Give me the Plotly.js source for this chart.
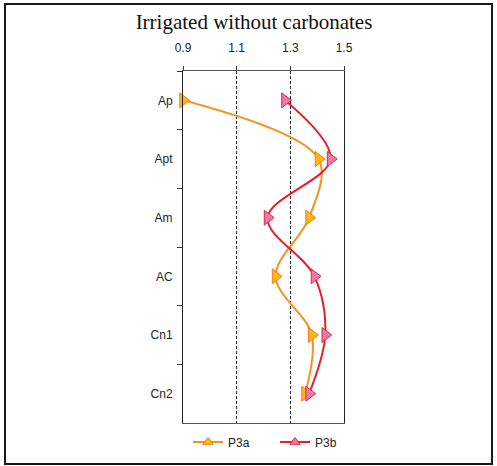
<!DOCTYPE html>
<html>
<head>
<meta charset="utf-8">
<script src="https://cdn.plot.ly/plotly-3.0.1.min.js"></script>
<style>
  html, body { margin: 0; padding: 0; background: #fff; }
  #wrap { position: relative; width: 497px; height: 466px; }
  #chart { position: absolute; left: 0; top: 0; width: 497px; height: 466px; }
  #frame { position: absolute; left: 4px; top: 3px; width: 489px; height: 462px;
           box-sizing: border-box; border: 2px solid #1a1a1a; pointer-events: none; }
</style>
</head>
<body>
<div id="wrap">
  <div id="chart"></div>
  <div id="frame"></div>
</div>
<script>
// Data
const horizons = ["Ap", "Apt", "Am", "AC", "Cn1", "Cn2"];
const p3a = [0.90, 1.405, 1.37, 1.245, 1.38, 1.355];
const p3b = [1.28, 1.45, 1.215, 1.39, 1.43, 1.37];
const xTicks = [0.9, 1.1, 1.3, 1.5];
const xTickText = ["0.9", "1.1", "1.3", "1.5"];
const seriesNames = ["P3a", "P3b"];

const colA = { line: "#F7901E", fill: "#FDBA12", edge: "#F47A20" };
const colB = { line: "#E4202C", fill: "#EE78A8", edge: "#E0283A" };

const traces = [
  {
    x: p3a, y: horizons, type: "scatter", mode: "lines+markers",
    name: seriesNames[0], showlegend: false, cliponaxis: false,
    line: { color: colA.line, width: 2, shape: "spline", smoothing: 1 },
    marker: { symbol: "triangle-right", size: 13, color: colA.fill,
              line: { color: colA.edge, width: 1 } }
  },
  {
    x: p3b, y: horizons, type: "scatter", mode: "lines+markers",
    name: seriesNames[1], showlegend: false, cliponaxis: false,
    line: { color: colB.line, width: 2, shape: "spline", smoothing: 1 },
    marker: { symbol: "triangle-right", size: 13, color: colB.fill,
              line: { color: colB.edge, width: 1 } }
  },
  // legend entries (triangle-up symbols as in the reference legend)
  {
    x: [null], y: [null], type: "scatter", mode: "lines+markers",
    name: seriesNames[0], showlegend: true, legend: "legend",
    line: { color: colA.line, width: 2 },
    marker: { symbol: "triangle-up", size: 9, color: colA.fill,
              line: { color: colA.edge, width: 1 } }
  },
  {
    x: [null], y: [null], type: "scatter", mode: "lines+markers",
    name: seriesNames[1], showlegend: true, legend: "legend2",
    line: { color: colB.line, width: 2 },
    marker: { symbol: "triangle-up", size: 9, color: colB.fill,
              line: { color: colB.edge, width: 1 } }
  }
];

const legendBase = {
  orientation: "h", xanchor: "left", xref: "container",
  y: 24 / 466, yref: "container", yanchor: "middle",
  font: { size: 12, color: "#222" }, itemwidth: 30,
  bgcolor: "rgba(0,0,0,0)"
};

const layout = {
  width: 497, height: 466,
  margin: { l: 183, r: 153, t: 71, b: 43, pad: 0 },
  paper_bgcolor: "#fff", plot_bgcolor: "#fff",
  font: { family: "Liberation Sans, Arial, sans-serif", size: 12, color: "#222" },
  title: {
    text: "Irrigated without carbonates",
    font: { family: "Liberation Serif, Times New Roman, serif", size: 21, color: "#111" },
    x: 254 / 497, xref: "container", xanchor: "center",
    y: 1 - 22 / 466, yref: "container", yanchor: "middle"
  },
  xaxis: {
    side: "top", range: [0.9, 1.5], tickmode: "array",
    tickvals: xTicks, ticktext: xTickText,
    ticks: "outside", ticklen: 4, tickcolor: "#333", tickwidth: 1,
    ticklabelstandoff: 9,
    showline: true, linecolor: "#555", linewidth: 1, mirror: true,
    showgrid: true, gridcolor: "#222", gridwidth: 1, griddash: "3px,2px",
    zeroline: false, fixedrange: true,
    tickfont: { size: 12, color: "#222" }
  },
  yaxis: {
    type: "category", categoryorder: "array", categoryarray: horizons,
    range: [5.5, -0.5], tickson: "boundaries",
    ticks: "outside", ticklen: 5, tickcolor: "#333", tickwidth: 1,
    showline: true, linecolor: "#222", linewidth: 1, mirror: true,
    showgrid: false, zeroline: false, fixedrange: true,
    ticklabelstandoff: 7,
    tickfont: { size: 12, color: "#222" }
  },
  showlegend: true,
  legend: Object.assign({}, legendBase, { x: 188 / 497 }),
  legend2: Object.assign({}, legendBase, { x: 275 / 497 })
};

Plotly.newPlot("chart", traces, layout, { staticPlot: true, displayModeBar: false });
</script>
</body>
</html>
